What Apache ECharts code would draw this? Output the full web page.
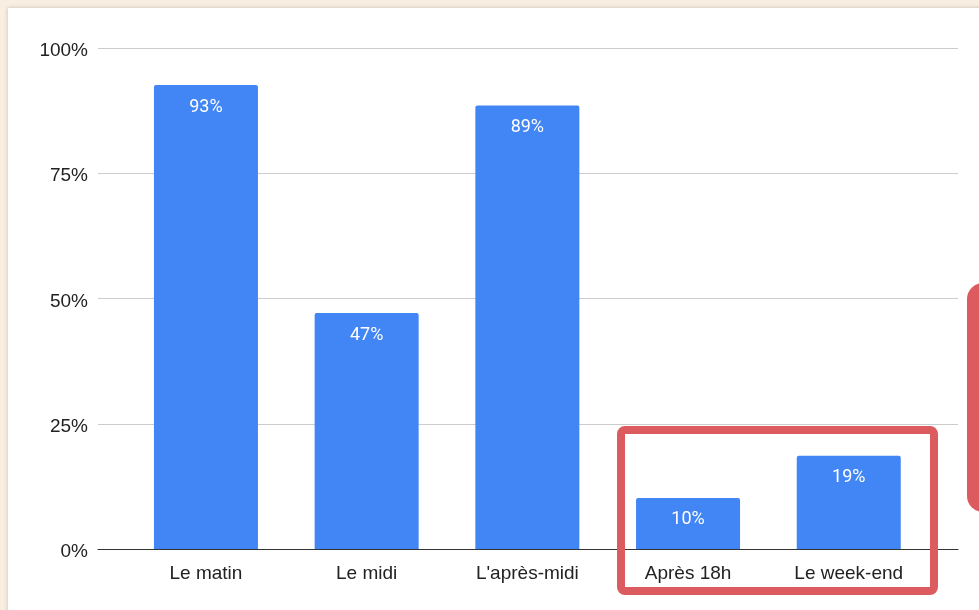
<!DOCTYPE html>
<html>
<head>
<meta charset="utf-8">
<script src="https://cdn.jsdelivr.net/npm/echarts@6/dist/echarts.min.js"></script>
<style>
  html, body { margin: 0; padding: 0; background: #f8eee2; }
  .panel {
    position: absolute; left: 8px; top: 8px; width: 990px; height: 620px;
    background: #fff; box-shadow: 0 0 4px rgba(120, 100, 80, 0.35);
  }
  #chart { position: absolute; left: 0; top: 0; width: 979px; height: 610px; }
</style>
</head>
<body>
<div class="panel"></div>
<div id="chart"></div>
<script>
// valeurs (en %)
const categories = ['Le matin', 'Le midi', "L'après-midi", 'Après 18h', 'Le week-end']
const values = [92.6, 47.1, 88.5, 10.2, 18.6]
const yTicks = [0, 25, 50, 75, 100]

const chart = echarts.init(document.getElementById('chart'))

const axisFont = { fontFamily: 'Liberation Sans, Arial, sans-serif', fontSize: 19, color: '#222' }
const red = '#dc5b5e'

const option = {
  animation: false,
  backgroundColor: 'transparent',
  grid: [
    // fond : grille et axes
    { left: 98, right: 21, top: 48, bottom: 61 },
    // barres
    { left: 125.6, width: 803.5, top: 48, bottom: 61 }
  ],
  xAxis: [
    {
      gridIndex: 0, type: 'value', min: 0, max: 1,
      axisLine: { show: true, lineStyle: { color: '#333', width: 1 } },
      axisTick: { show: false }, axisLabel: { show: false }, splitLine: { show: false }
    },
    {
      gridIndex: 1, type: 'category', data: categories,
      axisLine: { show: false }, axisTick: { show: false },
      axisLabel: { ...axisFont, margin: 15 }
    }
  ],
  yAxis: [
    {
      gridIndex: 0, type: 'value', min: yTicks[0], max: yTicks[yTicks.length - 1], interval: 25,
      axisLine: { show: false }, axisTick: { show: false },
      axisLabel: { ...axisFont, margin: 10, verticalAlign: 'top', lineHeight: 6, formatter: '{value}%' },
      splitLine: { lineStyle: { color: '#cccccc', width: 1 } }
    },
    {
      gridIndex: 1, type: 'value', min: 0, max: 100, show: false
    }
  ],
  series: [
    {
      type: 'bar',
      xAxisIndex: 1, yAxisIndex: 1,
      data: values,
      barWidth: 104,
      itemStyle: { color: '#4285f4', borderRadius: [2, 2, 0, 0] },
      label: {
        show: true,
        position: 'insideTop',
        distance: 13,
        color: '#fff',
        fontFamily: 'Roboto, sans-serif',
        fontSize: 18,
        formatter: p => Math.round(p.value) + '%'
      },
      z: 3
    }
  ],
  graphic: [
    {
      type: 'rect', z: 10,
      shape: { x: 621, y: 430, width: 313, height: 161, r: 4 },
      style: { fill: 'none', stroke: red, lineWidth: 8 }
    },
    {
      type: 'rect', z: 10,
      shape: { x: 967, y: 283, width: 40, height: 229, r: 16 },
      style: { fill: red }
    }
  ]
}

chart.setOption(option)
</script>
</body>
</html>
